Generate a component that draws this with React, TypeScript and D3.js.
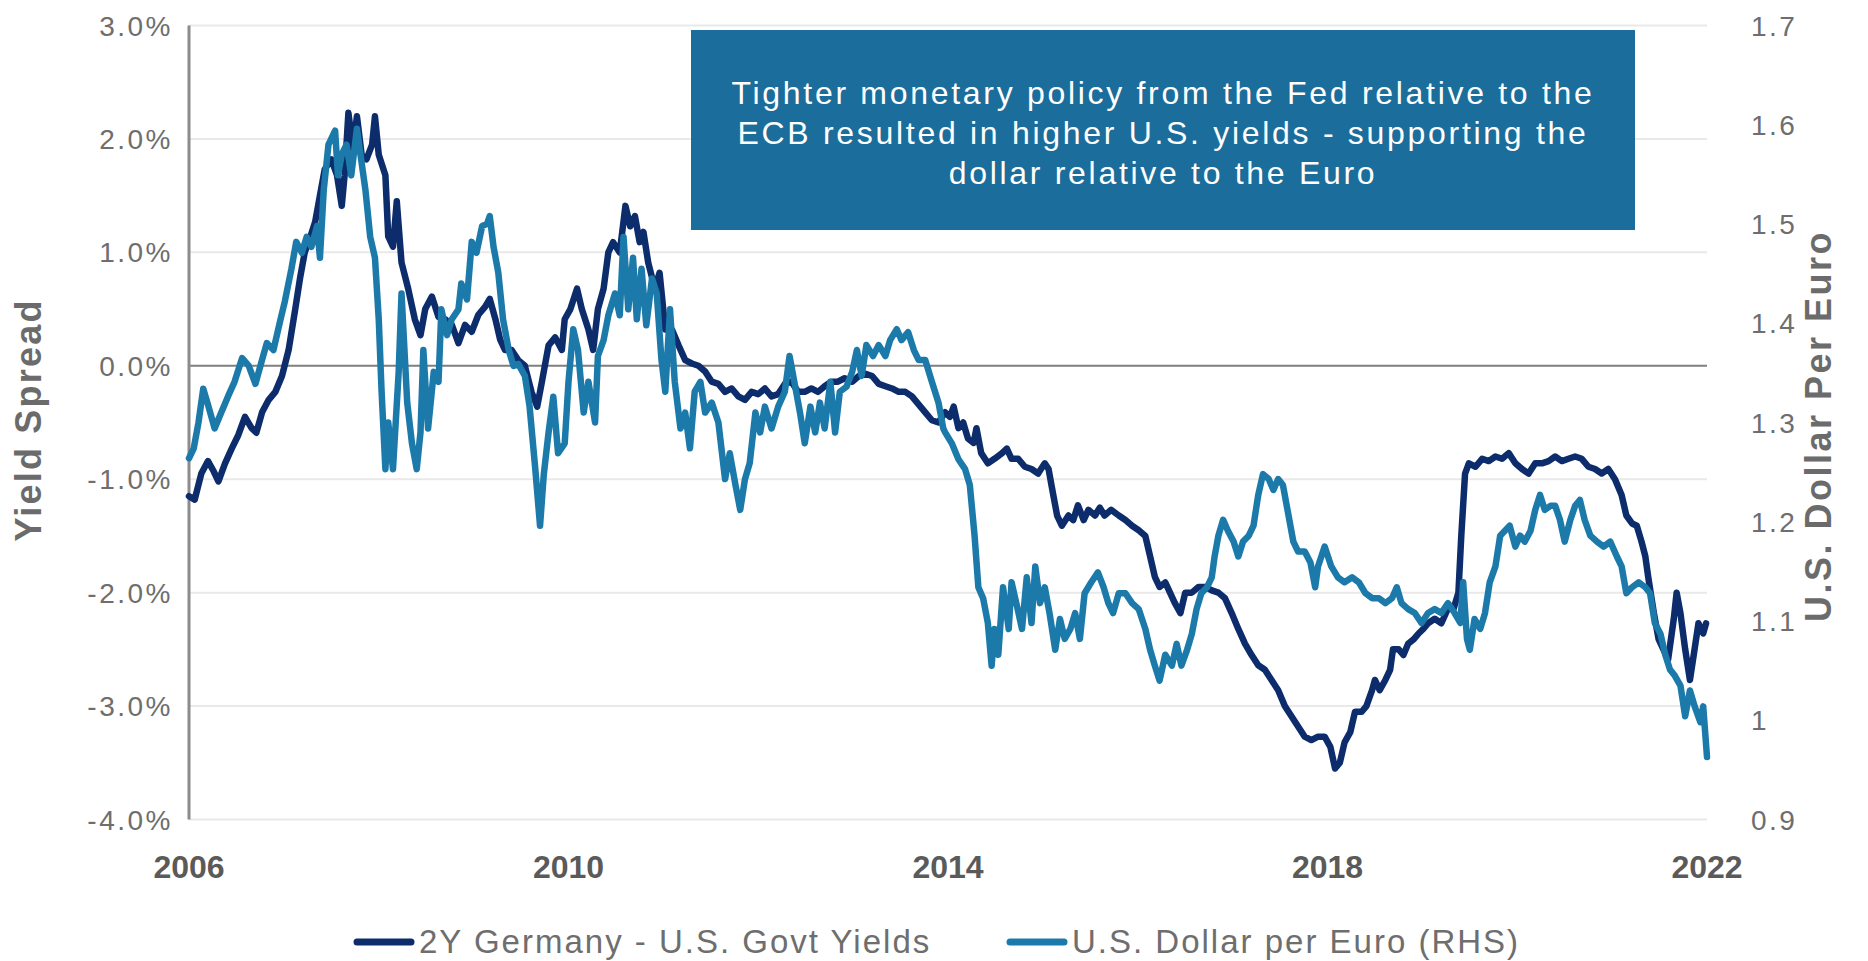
import * as d3 from "d3";

// [decimal year, 2Y Germany minus U.S. yield, %]
const spreadSeries: [number, number][] = [
  [2006.0, -1.15], [2006.06, -1.18], [2006.13, -0.95], [2006.2, -0.84], [2006.26, -0.93], [2006.31, -1.02],
  [2006.38, -0.86], [2006.45, -0.73], [2006.52, -0.61], [2006.59, -0.45], [2006.66, -0.55], [2006.71, -0.59],
  [2006.77, -0.41], [2006.84, -0.3], [2006.91, -0.23], [2006.98, -0.09], [2007.05, 0.14], [2007.12, 0.5],
  [2007.17, 0.77], [2007.22, 1.0], [2007.28, 1.14], [2007.33, 1.27], [2007.38, 1.5], [2007.43, 1.73],
  [2007.5, 1.82], [2007.56, 1.68], [2007.61, 1.41], [2007.64, 1.68], [2007.68, 2.23], [2007.73, 1.91],
  [2007.77, 2.2], [2007.82, 1.86], [2007.87, 1.82], [2007.93, 1.95], [2007.96, 2.2], [2008.0, 1.86],
  [2008.07, 1.68], [2008.1, 1.14], [2008.15, 1.05], [2008.19, 1.45], [2008.24, 0.91], [2008.31, 0.68],
  [2008.38, 0.41], [2008.44, 0.27], [2008.49, 0.5], [2008.56, 0.61], [2008.63, 0.43], [2008.7, 0.41],
  [2008.77, 0.36], [2008.84, 0.2], [2008.91, 0.36], [2008.98, 0.3], [2009.05, 0.45], [2009.12, 0.52],
  [2009.17, 0.59], [2009.23, 0.41], [2009.28, 0.23], [2009.33, 0.14], [2009.4, 0.14], [2009.47, 0.05],
  [2009.54, 0.0], [2009.61, -0.23], [2009.67, -0.36], [2009.72, -0.14], [2009.79, 0.18], [2009.86, 0.25],
  [2009.93, 0.14], [2009.96, 0.41], [2010.02, 0.5], [2010.09, 0.68], [2010.14, 0.5], [2010.21, 0.32],
  [2010.26, 0.14], [2010.31, 0.5], [2010.37, 0.68], [2010.42, 1.0], [2010.47, 1.09], [2010.54, 1.0],
  [2010.6, 1.41], [2010.65, 1.23], [2010.7, 1.32], [2010.75, 1.09], [2010.79, 1.18], [2010.84, 0.91],
  [2010.91, 0.68], [2010.96, 0.82], [2011.02, 0.32], [2011.09, 0.32], [2011.16, 0.18], [2011.23, 0.05],
  [2011.3, 0.02], [2011.37, 0.0], [2011.44, -0.05], [2011.51, -0.14], [2011.58, -0.16], [2011.65, -0.23],
  [2011.72, -0.2], [2011.79, -0.27], [2011.86, -0.3], [2011.93, -0.23], [2012.0, -0.25], [2012.07, -0.2],
  [2012.14, -0.27], [2012.21, -0.25], [2012.28, -0.16], [2012.35, -0.14], [2012.42, -0.23], [2012.49, -0.23],
  [2012.56, -0.2], [2012.63, -0.23], [2012.7, -0.18], [2012.77, -0.14], [2012.84, -0.14], [2012.91, -0.11],
  [2012.99, -0.14], [2013.06, -0.09], [2013.13, -0.07], [2013.2, -0.09], [2013.27, -0.16], [2013.34, -0.18],
  [2013.41, -0.2], [2013.48, -0.23], [2013.55, -0.23], [2013.62, -0.27], [2013.69, -0.34], [2013.76, -0.41],
  [2013.83, -0.48], [2013.9, -0.5], [2013.97, -0.41], [2014.02, -0.45], [2014.06, -0.36], [2014.11, -0.55],
  [2014.16, -0.5], [2014.21, -0.64], [2014.27, -0.68], [2014.3, -0.55], [2014.35, -0.77], [2014.42, -0.86],
  [2014.49, -0.82], [2014.57, -0.77], [2014.62, -0.73], [2014.67, -0.82], [2014.74, -0.82], [2014.81, -0.89],
  [2014.88, -0.91], [2014.95, -0.95], [2015.02, -0.86], [2015.06, -0.91], [2015.09, -1.05], [2015.15, -1.32],
  [2015.2, -1.41], [2015.27, -1.32], [2015.32, -1.36], [2015.37, -1.23], [2015.43, -1.36], [2015.48, -1.27],
  [2015.55, -1.32], [2015.6, -1.25], [2015.65, -1.32], [2015.72, -1.27], [2015.8, -1.32], [2015.87, -1.36],
  [2015.94, -1.41], [2016.01, -1.45], [2016.08, -1.5], [2016.13, -1.68], [2016.18, -1.86], [2016.23, -1.95],
  [2016.29, -1.91], [2016.34, -2.0], [2016.39, -2.09], [2016.45, -2.18], [2016.5, -2.0], [2016.57, -2.0],
  [2016.64, -1.95], [2016.71, -1.95], [2016.78, -1.98], [2016.85, -2.0], [2016.92, -2.05], [2016.99, -2.18],
  [2017.06, -2.32], [2017.13, -2.45], [2017.2, -2.55], [2017.27, -2.64], [2017.34, -2.68], [2017.41, -2.77],
  [2017.48, -2.86], [2017.55, -3.0], [2017.62, -3.09], [2017.69, -3.18], [2017.76, -3.27], [2017.83, -3.3],
  [2017.9, -3.27], [2017.97, -3.27], [2018.03, -3.36], [2018.08, -3.55], [2018.13, -3.5], [2018.18, -3.32],
  [2018.24, -3.23], [2018.29, -3.05], [2018.36, -3.05], [2018.41, -3.0], [2018.47, -2.86], [2018.5, -2.77],
  [2018.55, -2.86], [2018.61, -2.77], [2018.66, -2.68], [2018.69, -2.5], [2018.75, -2.5], [2018.8, -2.55],
  [2018.85, -2.45], [2018.91, -2.41], [2018.96, -2.36], [2019.01, -2.32], [2019.06, -2.27], [2019.13, -2.23],
  [2019.2, -2.27], [2019.27, -2.14], [2019.33, -2.14], [2019.38, -2.0], [2019.41, -1.5], [2019.45, -0.95],
  [2019.49, -0.86], [2019.56, -0.89], [2019.63, -0.82], [2019.7, -0.84], [2019.77, -0.8], [2019.84, -0.82],
  [2019.91, -0.77], [2019.98, -0.86], [2020.05, -0.91], [2020.12, -0.95], [2020.19, -0.86], [2020.26, -0.86],
  [2020.33, -0.84], [2020.4, -0.8], [2020.47, -0.84], [2020.54, -0.82], [2020.61, -0.8], [2020.68, -0.82],
  [2020.75, -0.89], [2020.82, -0.91], [2020.89, -0.95], [2020.96, -0.91], [2021.03, -1.0], [2021.1, -1.14],
  [2021.15, -1.32], [2021.21, -1.39], [2021.26, -1.41], [2021.31, -1.55], [2021.35, -1.68], [2021.38, -1.86],
  [2021.44, -2.18], [2021.49, -2.41], [2021.54, -2.5], [2021.59, -2.59], [2021.65, -2.23], [2021.68, -2.0],
  [2021.72, -2.18], [2021.77, -2.5], [2021.82, -2.77], [2021.86, -2.55], [2021.91, -2.27], [2021.96, -2.36],
  [2021.99, -2.27],
];

// [decimal year, U.S. dollars per euro]
const fxSeries: [number, number][] = [
  [2006.0, 1.264], [2006.05, 1.274], [2006.1, 1.3], [2006.15, 1.334], [2006.2, 1.318], [2006.27, 1.294],
  [2006.34, 1.31], [2006.41, 1.326], [2006.48, 1.341], [2006.56, 1.365], [2006.63, 1.357], [2006.7, 1.339],
  [2006.77, 1.363], [2006.82, 1.38], [2006.89, 1.373], [2006.96, 1.402], [2007.01, 1.422], [2007.08, 1.455],
  [2007.13, 1.482], [2007.19, 1.471], [2007.24, 1.487], [2007.29, 1.477], [2007.35, 1.498], [2007.38, 1.466],
  [2007.42, 1.534], [2007.47, 1.58], [2007.54, 1.594], [2007.57, 1.549], [2007.61, 1.57], [2007.66, 1.58],
  [2007.71, 1.549], [2007.77, 1.596], [2007.8, 1.575], [2007.86, 1.534], [2007.91, 1.487], [2007.96, 1.466],
  [2008.0, 1.404], [2008.03, 1.331], [2008.07, 1.253], [2008.1, 1.3], [2008.15, 1.253], [2008.21, 1.351],
  [2008.24, 1.43], [2008.3, 1.32], [2008.35, 1.279], [2008.4, 1.253], [2008.44, 1.29], [2008.47, 1.373],
  [2008.52, 1.294], [2008.58, 1.351], [2008.63, 1.341], [2008.66, 1.414], [2008.72, 1.388], [2008.77, 1.404],
  [2008.84, 1.414], [2008.87, 1.44], [2008.93, 1.424], [2008.98, 1.482], [2009.03, 1.471], [2009.09, 1.498],
  [2009.14, 1.5], [2009.17, 1.508], [2009.21, 1.477], [2009.26, 1.451], [2009.31, 1.404], [2009.37, 1.373],
  [2009.42, 1.357], [2009.47, 1.359], [2009.54, 1.347], [2009.59, 1.316], [2009.65, 1.253], [2009.7, 1.196],
  [2009.74, 1.248], [2009.79, 1.29], [2009.84, 1.326], [2009.89, 1.269], [2009.96, 1.279], [2010.0, 1.341],
  [2010.05, 1.394], [2010.1, 1.373], [2010.16, 1.31], [2010.21, 1.341], [2010.28, 1.3], [2010.31, 1.367],
  [2010.37, 1.383], [2010.42, 1.408], [2010.49, 1.43], [2010.54, 1.408], [2010.58, 1.487], [2010.63, 1.414],
  [2010.68, 1.466], [2010.72, 1.404], [2010.77, 1.455], [2010.82, 1.398], [2010.88, 1.445], [2010.93, 1.43],
  [2010.98, 1.363], [2011.02, 1.331], [2011.07, 1.414], [2011.12, 1.341], [2011.18, 1.294], [2011.23, 1.31],
  [2011.28, 1.274], [2011.33, 1.331], [2011.39, 1.341], [2011.44, 1.31], [2011.51, 1.32], [2011.58, 1.3],
  [2011.65, 1.243], [2011.7, 1.269], [2011.76, 1.237], [2011.81, 1.212], [2011.86, 1.243], [2011.91, 1.259],
  [2011.97, 1.31], [2012.02, 1.29], [2012.07, 1.316], [2012.14, 1.294], [2012.21, 1.316], [2012.28, 1.331],
  [2012.33, 1.367], [2012.39, 1.336], [2012.44, 1.31], [2012.49, 1.279], [2012.55, 1.316], [2012.6, 1.29],
  [2012.65, 1.32], [2012.7, 1.294], [2012.76, 1.341], [2012.81, 1.29], [2012.86, 1.331], [2012.93, 1.336],
  [2012.99, 1.351], [2013.04, 1.373], [2013.09, 1.347], [2013.14, 1.378], [2013.21, 1.367], [2013.27, 1.378],
  [2013.34, 1.367], [2013.39, 1.383], [2013.46, 1.394], [2013.51, 1.383], [2013.58, 1.391], [2013.64, 1.373],
  [2013.69, 1.363], [2013.76, 1.363], [2013.83, 1.341], [2013.9, 1.32], [2013.95, 1.294], [2013.97, 1.29],
  [2014.04, 1.279], [2014.11, 1.263], [2014.18, 1.253], [2014.23, 1.237], [2014.28, 1.186], [2014.32, 1.134],
  [2014.37, 1.123], [2014.42, 1.098], [2014.46, 1.055], [2014.49, 1.092], [2014.53, 1.066], [2014.58, 1.134],
  [2014.64, 1.092], [2014.67, 1.139], [2014.72, 1.118], [2014.78, 1.092], [2014.83, 1.144], [2014.88, 1.098],
  [2014.92, 1.155], [2014.97, 1.118], [2015.02, 1.134], [2015.07, 1.108], [2015.13, 1.071], [2015.18, 1.102],
  [2015.23, 1.082], [2015.29, 1.092], [2015.34, 1.108], [2015.39, 1.082], [2015.44, 1.128], [2015.51, 1.139],
  [2015.58, 1.149], [2015.64, 1.134], [2015.69, 1.118], [2015.74, 1.108], [2015.8, 1.128], [2015.87, 1.128],
  [2015.94, 1.118], [2016.01, 1.112], [2016.08, 1.092], [2016.13, 1.071], [2016.18, 1.055], [2016.23, 1.04],
  [2016.29, 1.066], [2016.36, 1.055], [2016.41, 1.077], [2016.46, 1.055], [2016.52, 1.071], [2016.57, 1.087],
  [2016.62, 1.112], [2016.67, 1.128], [2016.73, 1.134], [2016.78, 1.144], [2016.81, 1.165], [2016.85, 1.186],
  [2016.9, 1.202], [2016.95, 1.191], [2017.01, 1.18], [2017.06, 1.165], [2017.11, 1.18], [2017.17, 1.186],
  [2017.22, 1.196], [2017.27, 1.227], [2017.32, 1.248], [2017.38, 1.243], [2017.43, 1.232], [2017.48, 1.243],
  [2017.53, 1.237], [2017.59, 1.206], [2017.64, 1.18], [2017.69, 1.17], [2017.76, 1.17], [2017.82, 1.159],
  [2017.87, 1.134], [2017.9, 1.155], [2017.97, 1.175], [2018.04, 1.155], [2018.11, 1.144], [2018.18, 1.139],
  [2018.26, 1.144], [2018.33, 1.139], [2018.4, 1.128], [2018.47, 1.123], [2018.54, 1.123], [2018.61, 1.118],
  [2018.68, 1.123], [2018.73, 1.134], [2018.78, 1.118], [2018.85, 1.112], [2018.92, 1.108], [2018.99, 1.098],
  [2019.06, 1.108], [2019.13, 1.112], [2019.2, 1.108], [2019.27, 1.118], [2019.34, 1.108], [2019.4, 1.098],
  [2019.43, 1.139], [2019.47, 1.082], [2019.5, 1.071], [2019.55, 1.102], [2019.61, 1.092], [2019.66, 1.108],
  [2019.71, 1.139], [2019.77, 1.155], [2019.82, 1.186], [2019.87, 1.191], [2019.92, 1.196], [2019.98, 1.175],
  [2020.03, 1.186], [2020.08, 1.18], [2020.14, 1.191], [2020.19, 1.212], [2020.24, 1.227], [2020.29, 1.212],
  [2020.35, 1.216], [2020.4, 1.216], [2020.45, 1.202], [2020.5, 1.18], [2020.56, 1.202], [2020.61, 1.216],
  [2020.66, 1.222], [2020.71, 1.202], [2020.77, 1.186], [2020.84, 1.18], [2020.91, 1.175], [2020.98, 1.18],
  [2021.05, 1.165], [2021.1, 1.155], [2021.15, 1.128], [2021.21, 1.134], [2021.28, 1.139], [2021.35, 1.134],
  [2021.4, 1.128], [2021.45, 1.098], [2021.51, 1.087], [2021.56, 1.066], [2021.61, 1.051], [2021.66, 1.045],
  [2021.72, 1.035], [2021.77, 1.004], [2021.82, 1.03], [2021.87, 1.014], [2021.93, 0.998], [2021.96, 1.014],
  [2022.0, 0.963],
];

const yearTicks = [2006, 2010, 2014, 2018, 2022];
const spreadTicks = [3, 2, 1, 0, -1, -2, -3, -4];
const fxTicks = [1.7, 1.6, 1.5, 1.4, 1.3, 1.2, 1.1, 1.0, 0.9];
const legendLabels = ["2Y Germany - U.S. Govt Yields", "U.S. Dollar per Euro (RHS)"];
const noteLines = [
  "Tighter monetary policy from the Fed relative to the",
  "ECB resulted in higher U.S. yields - supporting the",
  "dollar relative to the Euro",
];

const DARK = "#0c2c6c";
const LIGHT = "#1c7aab";
const FONT = "'Liberation Sans', Arial, sans-serif";

export default function App() {
  const W = 1868, H = 961;
  const left = 189, right = 1707, top = 25.5, bottom = 819.5;

  const x = d3.scaleLinear().domain([2006, 2022]).range([left, right]);
  const yL = d3.scaleLinear().domain([-4, 3]).range([bottom, top]);
  const yR = d3.scaleLinear().domain([0.9, 1.7]).range([bottom, top]);

  const spreadLine = d3.line<[number, number]>().x((d) => x(d[0])).y((d) => yL(d[1]));
  const fxLine = d3.line<[number, number]>().x((d) => x(d[0])).y((d) => yR(d[1]));

  return (
    <svg width={W} height={H} style={{ position: "absolute", left: 0, top: 0, background: "#fff" }} fontFamily={FONT}>
      {/* grid */}
      {spreadTicks.map((t) => (
        <line key={t} x1={left} x2={right} y1={yL(t)} y2={yL(t)}
          stroke={t === 0 ? "#7f7f7f" : "#e9e9e9"} strokeWidth={2} />
      ))}
      <line x1={left} x2={left} y1={top} y2={bottom} stroke="#8c8c8c" strokeWidth={3} />

      {/* left ticks */}
      {spreadTicks.map((t) => (
        <text key={t} x={173} y={yL(t)} dy="0.36em" textAnchor="end" fontSize={28}
          letterSpacing={2.5} fill="#6e6e6e">{`${t.toFixed(1)}%`}</text>
      ))}
      {/* right ticks */}
      {fxTicks.map((t) => (
        <text key={t} x={1751} y={yR(t)} dy="0.36em" fontSize={28}
          letterSpacing={2.5} fill="#6e6e6e">{String(+t.toFixed(1))}</text>
      ))}
      {/* x ticks */}
      {yearTicks.map((t) => (
        <text key={t} x={x(t)} y={878} textAnchor="middle" fontSize={32} fontWeight="bold"
          fill="#5a5a5a">{t}</text>
      ))}

      {/* axis titles */}
      <text transform={`translate(28,420) rotate(-90)`} textAnchor="middle" dy="0.36em"
        fontSize={36} fontWeight="bold" letterSpacing={2.2} fill="#6b6b6b">Yield Spread</text>
      <text transform={`translate(1818,426) rotate(-90)`} textAnchor="middle" dy="0.36em"
        fontSize={36} fontWeight="bold" letterSpacing={2.5} fill="#6b6b6b">U.S. Dollar Per Euro</text>

      {/* series */}
      <path d={spreadLine(spreadSeries) ?? ""} fill="none" stroke={DARK} strokeWidth={6.5}
        strokeLinejoin="round" strokeLinecap="round" />
      <path d={fxLine(fxSeries) ?? ""} fill="none" stroke={LIGHT} strokeWidth={6.5}
        strokeLinejoin="round" strokeLinecap="round" />

      {/* annotation */}
      <rect x={691} y={30} width={944} height={200} fill="#1b6d9b" />
      {noteLines.map((s, i) => (
        <text key={i} x={1163} y={104 + i * 40} textAnchor="middle" fontSize={32}
          letterSpacing={2.7} fill="#fff">{s}</text>
      ))}

      {/* legend */}
      {legendLabels.map((s, i) => {
        const x0 = i === 0 ? 357 : 1010;
        return (
          <g key={s}>
            <line x1={x0} x2={x0 + 54} y1={942} y2={942} stroke={i === 0 ? DARK : LIGHT}
              strokeWidth={7} strokeLinecap="round" />
            <text x={x0 + 62} y={953} fontSize={33} letterSpacing={2} fill="#6e6e6e">{s}</text>
          </g>
        );
      })}
    </svg>
  );
}
